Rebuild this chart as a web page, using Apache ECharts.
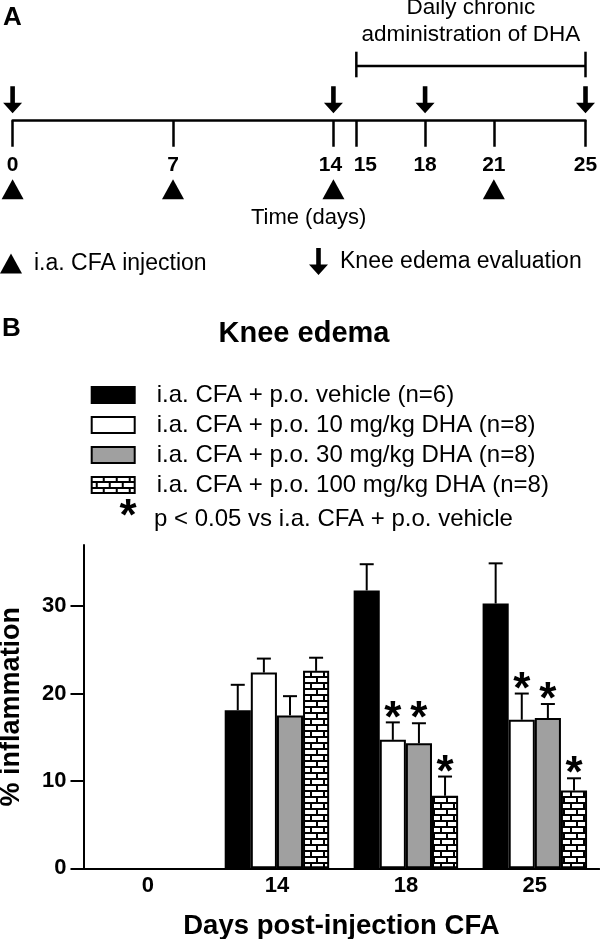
<!DOCTYPE html>
<html><head><meta charset="utf-8">
<script src="https://cdn.jsdelivr.net/npm/echarts@6/dist/echarts.min.js"></script>
<style>html,body{margin:0;padding:0;background:#fff}#c{width:600px;height:939px}</style>
</head><body><div id="c"></div>
<script>
// ---------- Panel A : protocol timeline (days) ----------
const timelineTicks = [0, 7, 14, 15, 18, 21, 25];
const cfaInjectionDays = [0, 7, 14, 21];
const edemaEvaluationDays = [0, 14, 18, 25];
const dhaPeriod = [15, 25];

// ---------- Panel B : knee edema (% inflammation) ----------
const categories = ['0', '14', '18', '25'];
const seriesNames = [
  'i.a. CFA + p.o. vehicle (n=6)',
  'i.a. CFA + p.o. 10 mg/kg DHA (n=8)',
  'i.a. CFA + p.o. 30 mg/kg DHA (n=8)',
  'i.a. CFA + p.o. 100 mg/kg DHA (n=8)'
];
const vehicleMean = [null, 18.1, 31.8, 30.3];
const vehicleSem  = [null, 2.9, 3.0, 4.6];
const dha10Mean   = [null, 22.4, 14.7, 17.0];
const dha10Sem    = [null, 1.6, 2.0, 3.0];
const dha30Mean   = [null, 17.5, 14.3, 17.2];
const dha30Sem    = [null, 2.2, 2.3, 1.6];
const dha100Mean  = [null, 22.6, 8.3, 8.9];
const dha100Sem   = [null, 1.5, 2.2, 1.4];
const vehicleSig  = [0, 0, 0, 0];
const dha10Sig    = [0, 0, 1, 1];
const dha30Sig    = [0, 0, 1, 1];
const dha100Sig   = [0, 0, 1, 1];
const yTicks = [0, 10, 20, 30];

const FONT = '"Liberation Sans", Arial, Helvetica, sans-serif';
const TRI = 'path://M0,20L11,0L22,20Z';
const ARROW = 'path://M7.2,0L11.8,0L11.8,16.5L19,16.5L9.5,27L0,16.5L7.2,16.5Z';

function brickPattern() {
  const c = document.createElement('canvas');
  c.width = 13; c.height = 12;
  const g = c.getContext('2d');
  g.fillStyle = '#000'; g.fillRect(0, 0, 13, 12);
  g.fillStyle = '#fff';
  g.fillRect(0, 0, 11, 4);
  g.fillRect(0, 6, 4, 4);
  g.fillRect(6, 6, 7, 4);
  return c;
}

const means = [vehicleMean, dha10Mean, dha30Mean, dha100Mean];
const sems = [vehicleSem, dha10Sem, dha30Sem, dha100Sem];
const sigs = [vehicleSig, dha10Sig, dha30Sig, dha100Sig];
const barFills = ['#000', '#fff', '#a0a0a0', { image: brickPattern(), repeat: 'repeat' }];
const CAT_GAP = 0.19;

const chart = echarts.init(document.getElementById('c'), null, { renderer: 'canvas' });

const barSeries = seriesNames.map((name, k) => ({
  type: 'bar', name, xAxisIndex: 0, yAxisIndex: 0,
  barGap: '0%', barCategoryGap: (CAT_GAP * 100) + '%',
  data: means[k].map(v => v == null ? '-' : v),
  itemStyle: { color: barFills[k], borderColor: '#000', borderWidth: 2 },
  emphasis: { disabled: true }, silent: true
}));

const errSeries = seriesNames.map((name, k) => ({
  type: 'custom', xAxisIndex: 0, yAxisIndex: 0, z: 5, silent: true,
  data: categories.map((c, i) => [i, means[k][i], sems[k][i], sigs[k][i]]).filter(d => d[1] != null),
  encode: { x: 0, y: 1 },
  renderItem(params, api) {
    const ci = api.value(0), m = api.value(1), s = api.value(2), sig = api.value(3);
    const base = api.coord([ci, m]);
    const top = api.coord([ci, m + s]);
    const band = api.size([1, 0])[0];
    const bw = band * (1 - CAT_GAP) / 4;
    const x = base[0] + (k - 1.5) * bw;
    const st = { stroke: '#000', lineWidth: 2 };
    const ch = [
      { type: 'line', shape: { x1: x, y1: base[1], x2: x, y2: top[1] }, style: st },
      { type: 'line', shape: { x1: x - 7, y1: top[1], x2: x + 7, y2: top[1] }, style: st }
    ];
    if (sig) ch.push({ type: 'text', style: { text: '*', x: x, y: top[1] - 3, align: 'center', verticalAlign: 'middle',
      font: 'bold 44px ' + FONT, fill: '#000' } });
    return { type: 'group', children: ch };
  }
}));

const tlLabelFont = { fontWeight: 'bold', fontSize: 21, fontFamily: FONT, color: '#000' };

const option = {
  backgroundColor: '#fff',
  animation: false,
  textStyle: { fontFamily: FONT, color: '#000' },
  grid: [
    { left: 83.5, right: 0.7, top: 545, bottom: 70.7, outerBoundsMode: 'none' },
    { left: 12.6, right: 14.5, top: 20, bottom: 818.3, outerBoundsMode: 'none' }
  ],
  xAxis: [
    { type: 'category', gridIndex: 0, data: categories,
      axisLine: { lineStyle: { color: '#000', width: 2 } }, axisTick: { show: false },
      axisLabel: { margin: 7, color: '#000', fontWeight: 'bold', fontSize: 22, fontFamily: FONT },
      name: 'Days post-injection CFA', nameLocation: 'middle', nameGap: 44,
      nameTextStyle: { fontWeight: 'bold', fontSize: 27.5, color: '#000', fontFamily: FONT } },
    { type: 'value', gridIndex: 1, min: 0, max: 25, splitLine: { show: false },
      axisLine: { lineStyle: { color: '#000', width: 2.5 } },
      axisTick: { customValues: timelineTicks, length: 26, lineStyle: { color: '#000', width: 2.5 } },
      axisLabel: { customValues: timelineTicks, margin: 34, ...tlLabelFont,
        formatter: v => v === 14 ? '{l|14}' : v === 15 ? '{r|15}' : String(v),
        rich: { l: { ...tlLabelFont, padding: [0, 6, 0, 0] }, r: { ...tlLabelFont, padding: [0, 0, 0, 18] } } },
      name: 'Time (days)', nameLocation: 'middle', nameGap: 86,
      nameTextStyle: { fontSize: 22, color: '#000', fontFamily: FONT, padding: [0, 0, 0, 19] } }
  ],
  yAxis: [
    { type: 'value', gridIndex: 0, min: 0, max: 37, interval: 10, splitLine: { show: false },
      axisLine: { show: true, lineStyle: { color: '#000', width: 2 } },
      axisTick: { show: true, customValues: yTicks, length: 13, lineStyle: { color: '#000', width: 2 } },
      axisLabel: { customValues: yTicks, margin: 17, color: '#000', fontWeight: 'bold', fontSize: 22, fontFamily: FONT },
      name: '% inflammation', nameLocation: 'middle', nameGap: 58,
      nameTextStyle: { fontWeight: 'bold', fontSize: 27, color: '#000', fontFamily: FONT } },
    { type: 'value', gridIndex: 1, min: 0, max: 1, show: false }
  ],
  legend: [
    { orient: 'vertical', left: 90.7, top: 383, padding: 0, itemWidth: 43, itemHeight: 16, itemGap: 6,
      icon: 'rect', selectedMode: false, data: seriesNames,
      textStyle: { fontFamily: FONT, fontSize: 24, lineHeight: 24, color: '#000', padding: [0, 0, 0, 17] } },
    { left: 0, top: 252, padding: 0, itemWidth: 22, itemHeight: 20, selectedMode: false,
      data: [{ name: 'i.a. CFA injection', icon: TRI }],
      textStyle: { fontFamily: FONT, fontSize: 23, color: '#000', padding: [0, 0, 0, 7] } },
    { left: 309, top: 248, padding: 0, itemWidth: 19, itemHeight: 27, selectedMode: false,
      data: [{ name: 'Knee edema evaluation', icon: ARROW }],
      textStyle: { fontFamily: FONT, fontSize: 23, color: '#000', padding: [0, 0, 0, 7] } }
  ],
  graphic: [
    { type: 'text', left: 3, top: 5, style: { text: 'A', font: 'bold 26px ' + FONT, fill: '#000' } },
    { type: 'text', left: 2, top: 316, style: { text: 'B', font: 'bold 26px ' + FONT, fill: '#000' } },
    { type: 'text', x: 304, y: 334, style: { text: 'Knee edema', font: 'bold 29px ' + FONT, fill: '#000', align: 'center', verticalAlign: 'middle' } },
    { type: 'text', x: 128, y: 518, style: { text: '*', font: 'bold 44px ' + FONT, fill: '#000', align: 'center', verticalAlign: 'middle' } },
    { type: 'text', x: 154, y: 519, style: { text: 'p < 0.05 vs i.a. CFA + p.o. vehicle', font: '24px ' + FONT, fill: '#000', align: 'left', verticalAlign: 'middle' } }
  ],
  series: [
    ...barSeries,
    ...errSeries,
    { type: 'scatter', name: 'i.a. CFA injection', xAxisIndex: 1, yAxisIndex: 1, clip: false, silent: true,
      data: cfaInjectionDays.map(d => [d, 0]), symbol: TRI, symbolSize: [22, 20], symbolOffset: [0, 68.5],
      itemStyle: { color: '#000', opacity: 1 } },
    { type: 'scatter', name: 'Knee edema evaluation', xAxisIndex: 1, yAxisIndex: 1, clip: false, silent: true,
      data: edemaEvaluationDays.map(d => [d, 0]), symbol: ARROW, symbolSize: [19, 27], symbolOffset: [0, -21],
      itemStyle: { color: '#000', opacity: 1 } },
    { type: 'custom', xAxisIndex: 1, yAxisIndex: 1, clip: false, silent: true,
      data: [[dhaPeriod[0], dhaPeriod[1], 0]], encode: { x: [0, 1], y: 2 },
      renderItem(params, api) {
        const a = api.coord([api.value(0), 0]);
        const b = api.coord([api.value(1), 0]);
        const y = a[1] - 54.7;
        const st = { stroke: '#000', lineWidth: 2.5 };
        return { type: 'group', children: [
          { type: 'line', shape: { x1: a[0], y1: y, x2: b[0], y2: y }, style: st },
          { type: 'line', shape: { x1: a[0], y1: y - 14.3, x2: a[0], y2: y + 11.3 }, style: st },
          { type: 'line', shape: { x1: b[0], y1: y - 14.3, x2: b[0], y2: y + 11.3 }, style: st },
          { type: 'text', style: { text: 'Daily chronic\nadministration of DHA', x: (a[0] + b[0]) / 2, y: y - 18,
            align: 'center', verticalAlign: 'bottom', font: '22.5px ' + FONT, lineHeight: 27, fill: '#000' } }
        ] };
      } }
  ]
};
chart.setOption(option);
</script>
</body></html>
